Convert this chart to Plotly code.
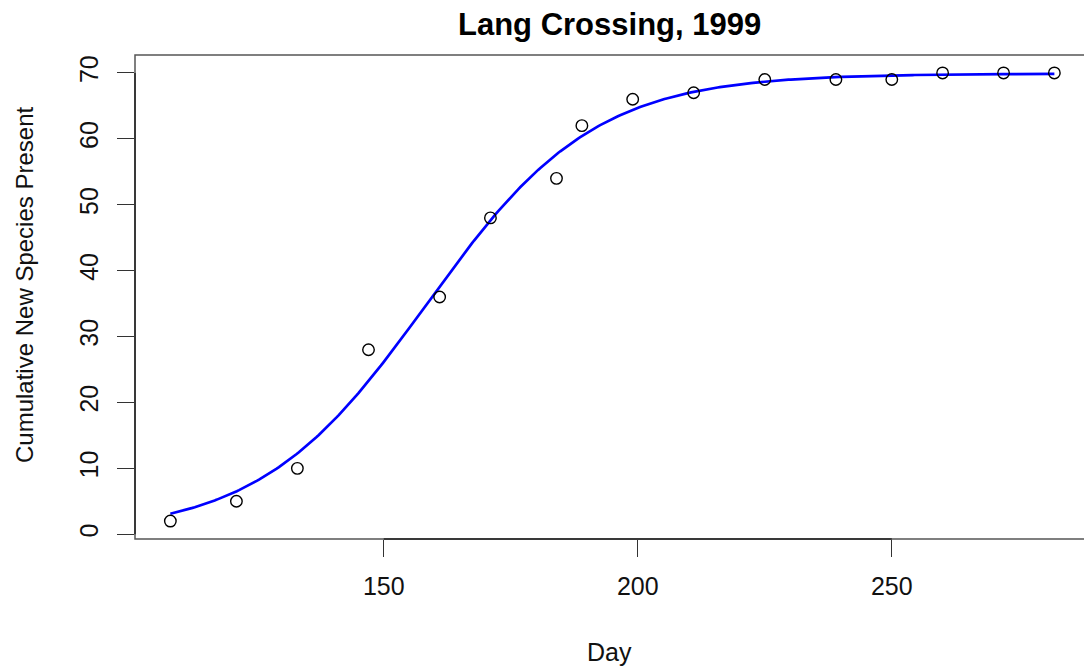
import numpy as np
import plotly.graph_objects as go

# Observations: survey day and cumulative count of new species
day = [108, 121, 133, 147, 161, 171, 184, 189, 199, 211, 225, 239, 250, 260, 272, 282]
species = [2, 5, 10, 28, 36, 48, 54, 62, 66, 67, 69, 69, 69, 70, 70, 70]

x_ticks = [150, 200, 250]
y_ticks = [0, 10, 20, 30, 40, 50, 60, 70]

x = np.array(day, dtype=float)
y = np.array(species, dtype=float)


def logistic(t, asym, xmid, scal):
    return asym / (1.0 + np.exp((xmid - t) / scal))


# Least-squares logistic fit (Gauss-Newton), the SSlogis model
p = np.array([70.0, 160.0, 16.0])
for _ in range(200):
    asym, xmid, scal = p
    e = np.exp((xmid - x) / scal)
    f = asym / (1 + e)
    J = np.column_stack([
        1 / (1 + e),
        -asym * e / (scal * (1 + e) ** 2),
        asym * e * (xmid - x) / (scal ** 2 * (1 + e) ** 2),
    ])
    step, *_ = np.linalg.lstsq(J, y - f, rcond=None)
    p = p + step
    if np.max(np.abs(step)) < 1e-10:
        break

t_fit = np.linspace(x.min(), x.max(), 400)
y_fit = logistic(t_fit, *p)

# R-style 4% padding on both axes
xpad = 0.04 * (x.max() - x.min())
ypad = 0.04 * (y.max() - y.min())
x_lo, x_hi = x.min() - xpad, x.max() + xpad
y_lo, y_hi = y.min() - ypad, y.max() + ypad
x_vis_hi = x_hi - 0.006 * (x_hi - x_lo)  # right edge of the box runs just past the page

FONT = "Liberation Sans, Arial, Helvetica, sans-serif"

fig = go.Figure()
fig.add_trace(go.Scatter(
    x=t_fit, y=y_fit, mode="lines",
    line=dict(color="#0000FF", width=2.7),
    hoverinfo="skip", showlegend=False,
))
fig.add_trace(go.Scatter(
    x=day, y=species, mode="markers",
    marker=dict(symbol="circle-open", size=11.5, color="black", line=dict(width=1.4, color="black")),
    showlegend=False,
))

# plot box (light) and axis lines spanning the tick range (dark)
fig.add_shape(type="rect", xref="paper", yref="paper", x0=0, x1=1.02, y0=0, y1=1,
              line=dict(color="#555555", width=1.5), layer="above")
fig.add_shape(type="line", xref="x", yref="paper", x0=min(x_ticks), x1=max(x_ticks), y0=0, y1=0,
              line=dict(color="#222222", width=1.5), layer="above")
fig.add_shape(type="line", xref="paper", yref="y", x0=0, x1=0, y0=min(y_ticks), y1=max(y_ticks),
              line=dict(color="#222222", width=1.5), layer="above")

fig.update_xaxes(
    range=[x_lo, x_vis_hi], tickvals=x_ticks, ticktext=[str(v) for v in x_ticks],
    ticks="outside", ticklen=17, tickwidth=1.3, tickcolor="#333333",
    showgrid=False, zeroline=False, showline=False,
    tickfont=dict(family=FONT, size=25, color="#111111"), ticklabelstandoff=8,
)
fig.update_yaxes(
    range=[y_lo, y_hi], tickvals=y_ticks, ticktext=[str(v) for v in y_ticks],
    ticks="outside", ticklen=17, tickwidth=1.3, tickcolor="#333333",
    showgrid=False, zeroline=False, showline=False, tickangle=-90,
    tickfont=dict(family=FONT, size=25, color="#111111"), ticklabelstandoff=9,
)

fig.add_annotation(text="<b>Lang Crossing, 1999</b>", xref="paper", yref="paper",
                   x=0.5, y=1, yshift=31, showarrow=False, xanchor="center", yanchor="middle",
                   font=dict(family=FONT, size=31, color="black"))
fig.add_annotation(text="Day", xref="paper", yref="paper", x=0.5, y=0, yshift=-113,
                   showarrow=False, xanchor="center", yanchor="middle",
                   font=dict(family=FONT, size=25, color="#111111"))
fig.add_annotation(text="Cumulative New Species Present", xref="paper", yref="paper",
                   x=0, xshift=-111, y=0.5, yshift=12, textangle=-90, showarrow=False,
                   xanchor="center", yanchor="middle",
                   font=dict(family=FONT, size=24, color="#111111"))

fig.update_layout(
    width=1084, height=671,
    margin=dict(l=135, r=0, t=55, b=132),
    paper_bgcolor="white", plot_bgcolor="white",
)

fig.write_html("out.html")
